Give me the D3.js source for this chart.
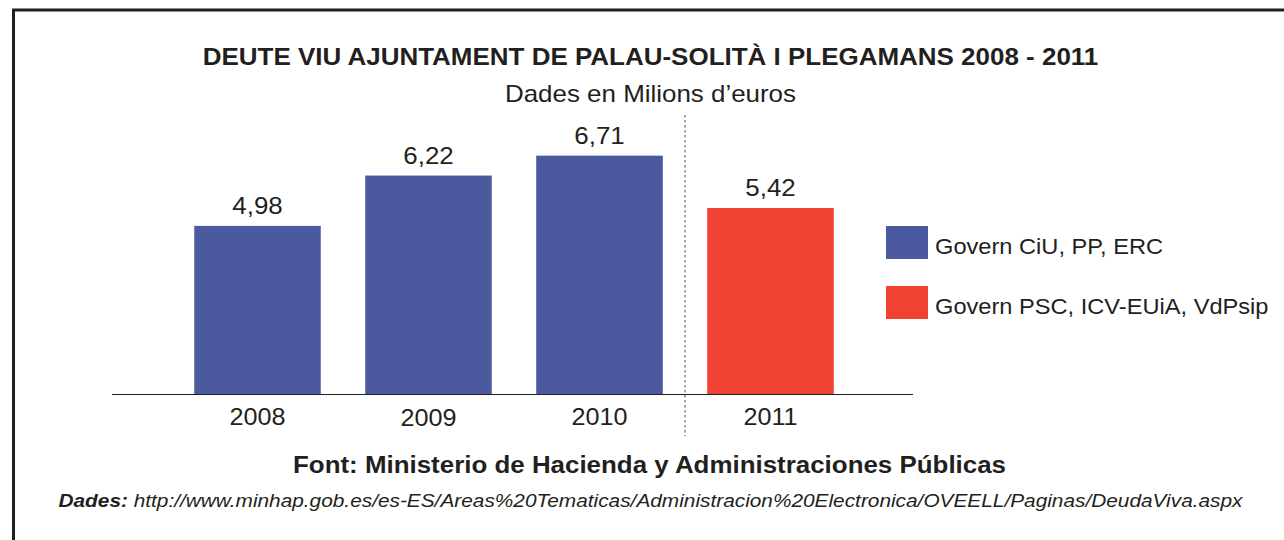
<!DOCTYPE html>
<html>
<head>
<meta charset="utf-8">
<script src="https://cdn.jsdelivr.net/npm/d3@7"></script>
<style>
  body { margin: 0; background: #fff; }
  text { font-family: "Liberation Sans", Arial, sans-serif; fill: #231f20; }
</style>
</head>
<body>
<svg id="chart" width="1284" height="540"></svg>
<script>
// data
var years = ["2008", "2009", "2010", "2011"];
var values = [4.98, 6.22, 6.71, 5.42];
var valueLabels = ["4,98", "6,22", "6,71", "5,42"];
var groups = ["CiU", "CiU", "CiU", "PSC"];
var legendKeys = ["CiU", "PSC"];
var legendLabels = ["Govern CiU, PP, ERC", "Govern PSC, ICV-EUiA, VdPsip"];

const blue = "#4b5a9e", red = "#ef4233";
const baseY = 394;
const cx = 650.5;

var svg = d3.select("#chart");

// the original type is a bit wider than Liberation Sans, so stretch it
function stretch(sel, k) {
  sel.each(function () {
    var w = this.getComputedTextLength();
    d3.select(this).attr("textLength", w * k).attr("lengthAdjust", "spacingAndGlyphs");
  });
  return sel;
}

// frame
svg.append("rect")
  .attr("x", 13.5).attr("y", 10)
  .attr("width", 1300).attr("height", 560)
  .attr("fill", "none")
  .attr("stroke", "#231f20")
  .attr("stroke-width", 3);

// titles
svg.append("text")
  .attr("x", cx).attr("y", 65)
  .attr("text-anchor", "middle")
  .style("font-size", "24px").style("font-weight", "bold")
  .text("DEUTE VIU AJUNTAMENT DE PALAU-SOLITÀ I PLEGAMANS 2008 - 2011")
  .call(stretch, 1.082);

svg.append("text")
  .attr("x", cx).attr("y", 102)
  .attr("text-anchor", "middle")
  .style("font-size", "24px")
  .text("Dades en Milions d\u2019euros")
  .call(stretch, 1.08);

// scales
const x = d3.scaleBand()
  .domain(years)
  .range([172, 856])
  .paddingInner(0.26)
  .paddingOuter(0.13);

const y = d3.scaleLinear()
  .domain([0.84, 6.80])
  .range([baseY, 152]);

const color = d3.scaleOrdinal()
  .domain(legendKeys)
  .range([blue, red]);

// bars
svg.selectAll(".bar")
  .data(years)
  .join("rect")
  .attr("class", "bar")
  .attr("x", d => x(d))
  .attr("width", x.bandwidth())
  .attr("y", (d, i) => y(values[i]))
  .attr("height", (d, i) => baseY - y(values[i]))
  .attr("fill", (d, i) => color(groups[i]));

// value labels
svg.selectAll(".val")
  .data(years)
  .join("text")
  .attr("class", "val")
  .attr("x", d => x(d) + x.bandwidth() / 2)
  .attr("y", (d, i) => y(values[i]) - 12)
  .attr("text-anchor", "middle")
  .style("font-size", "24px")
  .text((d, i) => valueLabels[i])
  .call(stretch, 1.08);

// baseline
svg.append("line")
  .attr("x1", 112).attr("x2", 913)
  .attr("y1", baseY + 0.5).attr("y2", baseY + 0.5)
  .attr("stroke", "#231f20").attr("stroke-width", 1.2);

// year labels
svg.selectAll(".yr")
  .data(years)
  .join("text")
  .attr("class", "yr")
  .attr("x", d => x(d) + x.bandwidth() / 2)
  .attr("y", (d, i) => i === 1 ? 426 : 425)
  .attr("text-anchor", "middle")
  .style("font-size", "24px")
  .text(d => d)
  .call(stretch, 1.05);

// separator between governments
var sepX = (x("2010") + x.bandwidth() + x("2011")) / 2;
svg.append("line")
  .attr("x1", sepX).attr("x2", sepX)
  .attr("y1", 115).attr("y2", 436)
  .attr("stroke", "#8a8a8a").attr("stroke-width", 1.5)
  .attr("stroke-dasharray", "2.5,2.5");

// legend
var legend = svg.selectAll(".leg")
  .data(legendKeys)
  .join("g")
  .attr("class", "leg")
  .attr("transform", (d, i) => `translate(886, ${226 + i * 60})`);

legend.append("rect")
  .attr("width", 42).attr("height", 33)
  .attr("fill", d => color(d));

legend.append("text")
  .attr("x", 49).attr("y", 28)
  .style("font-size", "22.5px")
  .text((d, i) => legendLabels[i])
  .call(stretch, 1.05);

// source
svg.append("text")
  .attr("x", cx - 1).attr("y", 473)
  .attr("text-anchor", "middle")
  .style("font-size", "23px").style("font-weight", "bold")
  .text("Font: Ministerio de Hacienda y Administraciones Públicas")
  .attr("textLength", 713).attr("lengthAdjust", "spacingAndGlyphs");

var src = svg.append("text")
  .attr("x", cx).attr("y", 507)
  .attr("text-anchor", "middle")
  .style("font-size", "19px").style("font-style", "italic")
  .attr("textLength", 1184).attr("lengthAdjust", "spacingAndGlyphs");
src.append("tspan").style("font-weight", "bold").text("Dades:");
src.append("tspan").text(" http://www.minhap.gob.es/es-ES/Areas%20Tematicas/Administracion%20Electronica/OVEELL/Paginas/DeudaViva.aspx");
</script>
</body>
</html>
